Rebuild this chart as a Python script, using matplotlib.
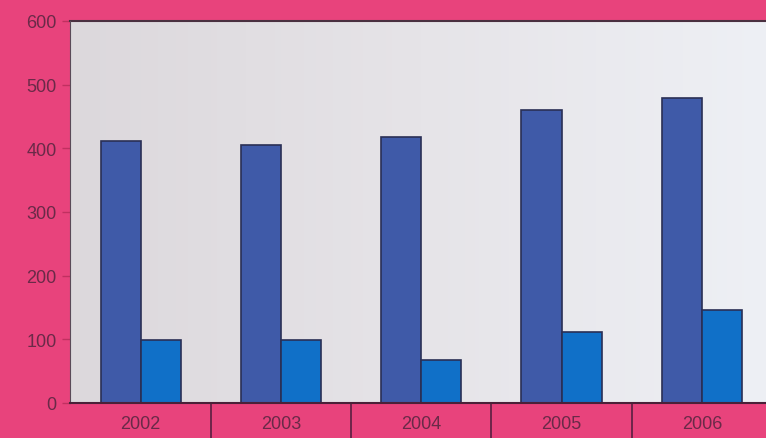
import numpy as np
import matplotlib.pyplot as plt

# values
years = ['2002', '2003', '2004', '2005', '2006']
series_a = [411, 405, 417, 460, 479]
series_b = [98, 98, 68, 112, 146]
y_ticks = [0, 100, 200, 300, 400, 500, 600]

pink = '#e8437c'
label_col = '#6a2a48'
plt.rcParams['font.family'] = ['Liberation Sans', 'DejaVu Sans']

fig = plt.figure(figsize=(7.66, 4.39), dpi=100, facecolor=pink)
# plot area runs slightly past the right edge, as in the scan
ax = fig.add_axes([0.092, 0.080, 0.916, 0.870])

# soft gray -> white background inside the plot
grad = np.linspace(0, 1, 256).reshape(1, -1)
ax.imshow(grad, extent=[0, 1, 0, 1], transform=ax.transAxes, aspect='auto',
          cmap=plt.matplotlib.colors.LinearSegmentedColormap.from_list(
              'bg', ['#dcd8dc', '#e6e4e8', '#eef0f5']), zorder=0)

x = np.arange(len(years))
w = 0.286
ax.bar(x - w / 2, series_a, w, color='#3f5aa8', edgecolor='#2a2f55', linewidth=1.2, zorder=2)
ax.bar(x + w / 2, series_b, w, color='#1070c8', edgecolor='#2a2f55', linewidth=1.2, zorder=2)

ax.set_xlim(-0.5, len(years) - 0.5)
ax.set_ylim(0, 600)
ax.set_yticks(y_ticks)
ax.set_yticklabels([str(v) for v in y_ticks], fontsize=13, color=label_col)
ax.tick_params(axis='y', length=6, width=1, color='#c03060', pad=4)
ax.set_xticks([])

for side in ['top', 'right']:
    ax.spines[side].set_visible(False)
ax.spines['left'].set_color('#5a4a58')
ax.spines['bottom'].set_color('#4a2038')
ax.spines['bottom'].set_linewidth(1.5)
ax.plot([0, 1], [1, 1], transform=ax.transAxes, color='#4a3040', lw=1.5, clip_on=False)

# year cells under the axis
for i, yr in enumerate(years):
    ax.text(i, -0.055, yr, transform=ax.get_xaxis_transform(), ha='center', va='center',
            fontsize=13, color=label_col)
    if i > 0:
        ax.plot([i - 0.5, i - 0.5], [0, -0.1], transform=ax.get_xaxis_transform(),
                color='#5a2040', lw=1.2, clip_on=False)

plt.savefig('out.png', dpi=100, facecolor=pink)
